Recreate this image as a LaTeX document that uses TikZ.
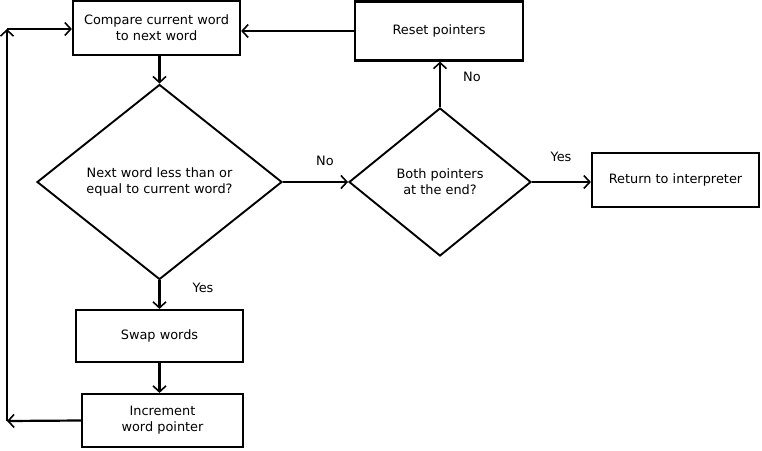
\documentclass[tikz,border=0pt]{standalone}
\usepackage{fontspec}
\setmainfont{DejaVu Sans}
\usetikzlibrary{shapes.geometric,arrows.meta}
\begin{document}
\begin{tikzpicture}[x=1pt,y=-1pt,
  every node/.style={font=\fontsize{12.9}{16}\selectfont, align=center, inner sep=0pt},
  procbox/.style={draw, line width=2.2pt, minimum width=#1},
  decision/.style={draw, diamond, line width=1.9pt},
  conn/.style={line width=2.2pt, -{Straight Barb[length=6pt,width=13pt,line width=1.6pt]}},
  lbl/.style={font=\fontsize{12.9}{14}\selectfont}]
\useasboundingbox (0,0) rectangle (762,450);
\node[procbox=167pt, minimum height=54pt] (cmp) at (156.5,28) {Compare current word\\to next word};
\node[procbox=168pt, minimum height=59pt] (reset) at (439,31) {Reset pointers};
\node[decision, minimum width=245pt, minimum height=195pt] (d1) at (159.5,182) {Next word less than or\\equal to current word?};
\node[decision, minimum width=182pt, minimum height=148pt] (d2) at (440,182) {Both pointers\\at the end?};
\node[procbox=167pt, minimum height=54pt] (ret) at (675.5,180) {Return to interpreter};
\node[procbox=167pt, minimum height=52pt] (swap) at (159.5,336) {Swap words};
\node[procbox=161pt, minimum height=53pt] (inc) at (162.5,420.5) {Increment\\word pointer};
\node[lbl] (lno1) at (325,161) {No};
\node[lbl] (lno2) at (472,77) {No};
\node[lbl] (lyes1) at (561,157) {Yes};
\node[lbl] (lyes2) at (203,288) {Yes};
\coordinate (lb) at (7,421);
\coordinate (lt) at (7,29);
\draw[conn] (cmp.south -| d1.north) -- (d1.north);
\draw[conn] (d1.east) -- (d2.west);
\draw[conn] (d2.north) -- (d2.north |- reset.south);
\draw[conn] (reset.west) -- (cmp.east |- reset.west);
\draw[conn] (d2.east) -- (d2.east -| ret.west);
\draw[conn] (d1.south) -- (swap.north);
\draw[conn] (swap.south) -- (swap.south |- inc.north);
\draw[conn] (inc.west) -- (lb);
\draw[conn] (lb) -- (lt);
\draw[conn] (lt) -- (cmp.west |- lt);
\end{tikzpicture}
\end{document}
